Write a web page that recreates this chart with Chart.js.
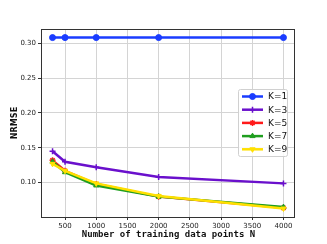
<!DOCTYPE html>
<html><head><meta charset="utf-8">
<script src="https://cdn.jsdelivr.net/npm/chart.js@4"></script>
<style>html,body{margin:0;padding:0;background:#fff}#wrap{width:327px;height:244px}</style>
</head><body><div id="wrap"><canvas id="c" width="327" height="244"></canvas></div>
<script>
const N = [300, 500, 1000, 2000, 4000];
const K1 = [0.308, 0.308, 0.308, 0.308, 0.308];
const K3 = [0.145, 0.130, 0.122, 0.108, 0.099];
const K5 = [0.132, 0.117, 0.098, 0.080, 0.064];
const K7 = [0.130, 0.115, 0.096, 0.080, 0.065];
const K9 = [0.127, 0.117, 0.099, 0.081, 0.063];
const xTicks = [500, 1000, 1500, 2000, 2500, 3000, 3500, 4000];
const yTicks = [0.10, 0.15, 0.20, 0.25, 0.30];
const seriesNames = ['K=1', 'K=3', 'K=5', 'K=7', 'K=9'];
const xTitle = 'Number of training data points N';
const yTitle = 'NRMSE';

const colors = ['#1a3cff', '#6a10cc', '#ff1a1a', '#1f9e1f', '#ffe000'];
const styles = ['circle', 'cross', 'star', 'triangle', 'triangle'];
const rots = [0, 0, 0, 0, 180];
const values = [K1, K3, K5, K7, K9];

const datasets = values.map((v, i) => ({
  label: seriesNames[i],
  data: N.map((x, j) => ({x: x, y: v[j]})),
  borderColor: colors[i],
  backgroundColor: colors[i],
  borderWidth: 2.5,
  pointStyle: styles[i],
  pointRotation: rots[i],
  pointRadius: 3,
  pointBorderWidth: styles[i] === 'cross' || styles[i] === 'star' ? 1.5 : 1,
  order: 4 - i,
  tension: 0
}));

const overlay = {
  id: 'overlay',
  afterDraw(chart) {
    const ctx = chart.ctx, a = chart.chartArea;
    ctx.save();
    // frame
    ctx.strokeStyle = '#333';
    ctx.lineWidth = 1;
    ctx.strokeRect(Math.round(a.left) + 0.5, Math.round(a.top) + 0.5, Math.round(a.right - a.left) - 1, Math.round(a.bottom - a.top));
    // titles
    ctx.fillStyle = '#111';
    ctx.font = 'bold 9px "DejaVu Sans Mono"';
    ctx.textAlign = 'center';
    ctx.textBaseline = 'middle';
    ctx.fillText(xTitle, (a.left + a.right) / 2 + 0.5, 235);
    ctx.save();
    ctx.translate(15, (a.top + a.bottom) / 2);
    ctx.rotate(-Math.PI / 2);
    ctx.font = 'bold 9px "Liberation Sans Narrow", "DejaVu Sans Condensed", sans-serif';
    ctx.fillText(yTitle, 0, 0);
    ctx.restore();
    // legend
    const lx = 238, ly = 89, lw = 49, lh = 67;
    ctx.fillStyle = 'rgba(255,255,255,0.85)';
    ctx.strokeStyle = '#d0d0d0';
    ctx.lineWidth = 1;
    ctx.beginPath();
    ctx.roundRect(lx + 0.5, ly + 0.5, lw, lh, 2);
    ctx.fill(); ctx.stroke();
    ctx.font = '9px "DejaVu Sans", sans-serif';
    ctx.textAlign = 'left';
    chart.data.datasets.forEach((ds, i) => {
      const y = 96.5 + i * 13.2;
      ctx.strokeStyle = ds.borderColor;
      ctx.lineWidth = 2.5;
      ctx.beginPath(); ctx.moveTo(242, y); ctx.lineTo(263, y); ctx.stroke();
      ctx.lineWidth = ds.pointBorderWidth;
      ctx.fillStyle = ds.backgroundColor;
      Chart.helpers.drawPoint(ctx, {pointStyle: ds.pointStyle, rotation: ds.pointRotation, radius: 3, borderWidth: ds.pointBorderWidth}, 252.5, y);
      ctx.fillStyle = '#111';
      ctx.fillText(ds.label, 268, y + 0.5);
    });
    ctx.restore();
  }
};

new Chart(document.getElementById('c'), {
  type: 'line',
  data: {datasets},
  options: {
    responsive: false,
    animation: false,
    devicePixelRatio: 1,
    layout: {padding: {left: 0, top: 29, right: 32, bottom: 0}},
    plugins: {legend: {display: false}, tooltip: {enabled: false}},
    scales: {
      x: {
        type: 'linear', min: 115, max: 4185,
        afterBuildTicks: ax => { ax.ticks = xTicks.map(v => ({value: v})); },
        afterFit: ax => { ax.height = 27; },
        ticks: {color: '#222', font: {size: 7, family: '"DejaVu Sans", sans-serif'}, padding: 2, maxRotation: 0, autoSkip: false,
          callback: v => String(v)},
        grid: {color: '#d4d4d4', lineWidth: 1, tickLength: 3, tickColor: '#333'},
        border: {display: false}
      },
      y: {
        type: 'linear', min: 0.0508, max: 0.3203,
        afterBuildTicks: ax => { ax.ticks = yTicks.map(v => ({value: v})); },
        afterFit: ax => { ax.width = 41; },
        ticks: {color: '#222', font: {size: 7, family: '"DejaVu Sans", sans-serif'}, padding: 2, autoSkip: false,
          callback: v => v.toFixed(2)},
        grid: {color: '#d4d4d4', lineWidth: 1, tickLength: 3, tickColor: '#333'},
        border: {display: false}
      }
    }
  },
  plugins: [overlay]
});
</script>
</body></html>
